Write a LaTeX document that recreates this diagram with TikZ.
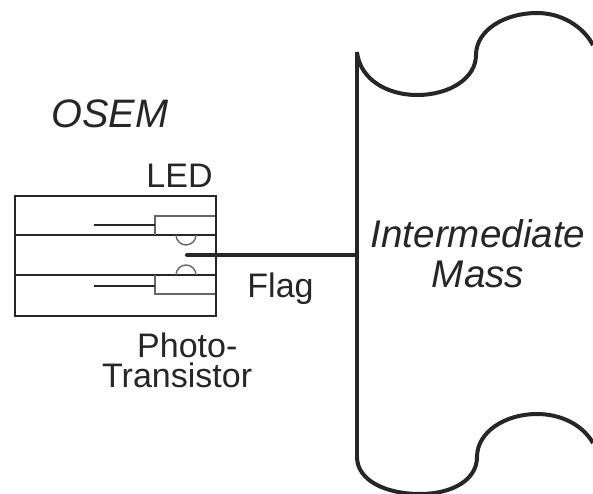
\documentclass[tikz,border=0pt]{standalone}
\usepackage{fontspec}
\setmainfont{Liberation Sans}
\tikzset{
  thinline/.style={draw=black!60,line width=1.1pt},
  medline/.style={draw=black!85,line width=2pt},
  heavyline/.style={draw=black!85,line width=4pt},
  lbl/.style={inner sep=0pt,font=\fontsize{34}{32}\selectfont,align=center,text=black!85},
  ilbl/.style={lbl,font=\fontsize{38.6}{40}\selectfont\itshape}
}
\begin{document}
\begin{tikzpicture}[x=1pt,y=-1pt]
\useasboundingbox (0,0) rectangle (593,494);
\fill[white] (0,0) rectangle (593,494);
% OSEM housing
\draw[medline,line width=2.2pt] (15,196) rectangle (216,316);
\draw[medline] (15,235) -- (216,235);
\draw[medline] (15,275) -- (216,275);
\draw[thinline] (215,216) -- (155,216) -- (155,235);
\draw[thinline] (215,294) -- (155,294) -- (155,275);
\draw[medline] (94,225) -- (155,225);
\draw[medline] (94,286) -- (155,286);
\draw[thinline,line width=1.4pt] (176,235) arc[start angle=180,end angle=0,radius=10];
\draw[thinline,line width=1.4pt] (176,275) arc[start angle=180,end angle=0,x radius=10,y radius=-10];
% Intermediate mass outline
\coordinate (ftop) at (357,52);
\coordinate (fbot) at (357,457);
\coordinate (fjoin) at (357,255);
\coordinate (fend) at (187,255);
\draw[heavyline,line cap=butt] (ftop) -- (fbot);
\draw[heavyline,line join=round]
  (ftop) .. controls (360,80) and (388,95) .. (417,95)
  .. controls (450,95) and (476,78) .. (476,55)
  .. controls (476,30) and (505,13) .. (537,13)
  .. controls (560,13) and (582,25) .. (593,45);
\draw[heavyline]
  (fbot) .. controls (357,480) and (385,494) .. (420,494)
  .. controls (452,494) and (477,480) .. (477,457)
  .. controls (477,432) and (505,414) .. (537,414)
  .. controls (560,414) and (582,424) .. (593,443);
% Flag
\draw[heavyline,line cap=round] (fend) -- (fjoin);
% Labels
\node[ilbl,anchor=center] (osem) at (110,114) {\fontsize{39.7}{40}\selectfont OSEM};
\node[lbl,anchor=center] (led) at (179.5,176) {LED};
\node[lbl,anchor=center] (flag) at (280.5,289) {Flag};
\node[lbl,anchor=base west] (photo) at (137,357) {Photo-};
\node[lbl,anchor=base west] (trans) at (102,387) {Transistor};
\node[ilbl,anchor=center] (mass) at (478,254) {Intermediate\\Mass};
\end{tikzpicture}
\end{document}
